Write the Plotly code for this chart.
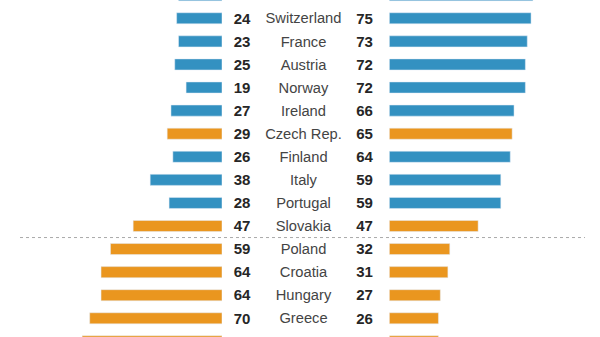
import plotly.graph_objects as go

countries = ["Germany", "Switzerland", "France", "Austria", "Norway", "Ireland",
             "Czech Rep.", "Finland", "Italy", "Portugal", "Slovakia",
             "Poland", "Croatia", "Hungary", "Greece", "Romania"]
left_vals = [23, 24, 23, 25, 19, 27, 29, 26, 38, 28, 47, 59, 64, 64, 70, 74]
right_vals = [76, 75, 73, 72, 72, 66, 65, 64, 59, 59, 47, 32, 31, 27, 26, 26]
groups = ["W", "W", "W", "W", "W", "W", "E", "W", "W", "W", "E",
          "E", "E", "E", "E", "E"]

BLUE = "#3391C1"
ORANGE = "#EA961F"
colors = [BLUE if g == "W" else ORANGE for g in groups]

FONT = "Liberation Sans"
W, H = 600, 337
ROW = 23.08
TOP = 4.8

fig = go.Figure()
fig.add_trace(go.Bar(y=countries, x=left_vals, orientation="h", marker_color=colors,
                     width=0.48, xaxis="x", yaxis="y", hoverinfo="skip"))
fig.add_trace(go.Bar(y=countries, x=right_vals, orientation="h", marker_color=colors,
                     width=0.48, xaxis="x2", yaxis="y", hoverinfo="skip"))

n = len(countries)
fig.add_trace(go.Scatter(x=[242] * n, y=countries, mode="text",
                         text=[f"<b>{v}</b>" for v in left_vals],
                         textposition="middle center",
                         textfont=dict(family=FONT, size=15, color="#262626"),
                         xaxis="x3", yaxis="y2", hoverinfo="skip", cliponaxis=False))
fig.add_trace(go.Scatter(x=[303.5] * n, y=countries, mode="text",
                         text=countries, textposition="middle center",
                         textfont=dict(family=FONT, size=14.7, color="#444444"),
                         xaxis="x3", yaxis="y2", hoverinfo="skip", cliponaxis=False))
fig.add_trace(go.Scatter(x=[364.5] * n, y=countries, mode="text",
                         text=[f"<b>{v}</b>" for v in right_vals],
                         textposition="middle center",
                         textfont=dict(family=FONT, size=15, color="#262626"),
                         xaxis="x3", yaxis="y2", hoverinfo="skip", cliponaxis=False))

px_per_unit = 1.89
left_edge = 222.0
right_start = 389.3
text_shift = 1.5  # px downward for text baseline alignment

fig.update_layout(
    width=W, height=H, margin=dict(l=0, r=0, t=0, b=0),
    paper_bgcolor="white", plot_bgcolor="rgba(0,0,0,0)", showlegend=False,
    barmode="overlay",
    xaxis=dict(domain=[0, left_edge / W], range=[left_edge / px_per_unit, 0],
               visible=False, fixedrange=True),
    xaxis2=dict(domain=[right_start / W, 1], range=[0, (W - right_start) / px_per_unit],
                visible=False, fixedrange=True),
    xaxis3=dict(domain=[0, 1], range=[0, W], visible=False, fixedrange=True),
    yaxis=dict(range=[(H + TOP) / ROW, TOP / ROW], visible=False,
               categoryorder="array", categoryarray=countries, fixedrange=True),
    yaxis2=dict(range=[(H + TOP - text_shift) / ROW, (TOP - text_shift) / ROW],
                visible=False, overlaying="y", categoryorder="array",
                categoryarray=countries, fixedrange=True),
    shapes=[dict(type="line", xref="paper", yref="y", x0=20 / W, x1=585 / W,
                 y0=10.5, y1=10.5, line=dict(color="#AAAAAA", width=1, dash="dot"))],
)

fig.write_html("out.html")
